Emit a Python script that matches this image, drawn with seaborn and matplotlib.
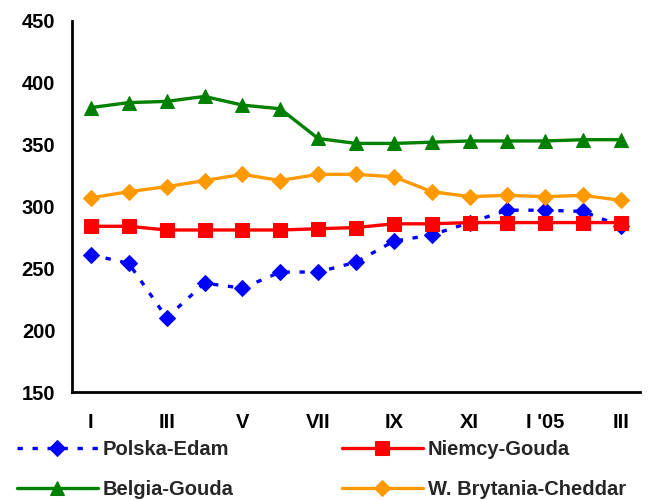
import matplotlib
matplotlib.use("Agg")
import matplotlib.pyplot as plt
from matplotlib.ticker import FixedLocator, NullFormatter, FixedFormatter
import seaborn as sns
import pandas as pd

months = ["I", "II", "III", "IV", "V", "VI", "VII", "VIII", "IX", "X", "XI", "XII", "I '05", "II", "III"]
polska_edam = [261, 254, 210, 238, 234, 247, 247, 255, 272, 277, 287, 297, 297, 296, 284]
niemcy_gouda = [284, 284, 281, 281, 281, 281, 282, 283, 286, 286, 287, 287, 287, 287, 287]
belgia_gouda = [380, 384, 385, 389, 382, 379, 355, 351, 351, 352, 353, 353, 353, 354, 354]
wb_cheddar = [307, 312, 316, 321, 326, 321, 326, 326, 324, 312, 308, 309, 308, 309, 305]
yticks = [150, 200, 250, 300, 350, 400, 450]

sns.set_style("white")
plt.rcParams['font.family'] = ['Liberation Sans', 'DejaVu Sans']
plt.rcParams['font.weight'] = 'bold'
FS = 14.5

fig = plt.figure(figsize=(6.49, 5.0), dpi=100)
ax = fig.add_axes([72/649, 1-392/500, (640-72)/649, (392-21)/500])

xs = list(range(len(months)))
df = pd.DataFrame({"x": xs, "Polska-Edam": polska_edam, "Niemcy-Gouda": niemcy_gouda,
                   "Belgia-Gouda": belgia_gouda, "W. Brytania-Cheddar": wb_cheddar})

series = [
    ("Polska-Edam", "#0000FF", "D", 8.3),
    ("Niemcy-Gouda", "#FF0000", "s", 10.0),
    ("Belgia-Gouda", "#008000", "^", 10.0),
    ("W. Brytania-Cheddar", "#FF9900", "D", 8.3),
]
lines = {}
for name, col, mk, ms in series:
    sns.lineplot(data=df, x="x", y=name, ax=ax, color=col, marker=mk, markersize=ms,
                 markeredgecolor=col, markerfacecolor=col, linewidth=2.4, label=name)
    lines[name] = ax.lines[-1]
lines["Polska-Edam"].set_linestyle((0, (1.6, 2.9)))
ax.get_legend().remove()

ax.set_xlim(-0.5, len(months) - 0.5)
ax.set_ylim(150, 450)
ax.set_yticks(yticks)
ax.set_yticklabels([str(v) for v in yticks])
ax.xaxis.set_major_locator(FixedLocator([i - 0.5 for i in range(len(months) + 1)]))
ax.xaxis.set_major_formatter(NullFormatter())
ax.xaxis.set_minor_locator(FixedLocator(xs[::2]))
ax.xaxis.set_minor_formatter(FixedFormatter(months[::2]))
ax.tick_params(axis='x', which='major', direction='out', length=7, width=2, color='black')
ax.tick_params(axis='x', which='minor', length=0, pad=15, labelsize=FS, labelcolor='black')
ax.tick_params(axis='y', direction='out', length=7, width=2, color='black', labelsize=FS,
               pad=5, labelcolor='black')
ax.set_xlabel("")
ax.set_ylabel("")
for s in ["top", "right"]:
    ax.spines[s].set_visible(False)
for s in ["left", "bottom"]:
    ax.spines[s].set_color("black")
    ax.spines[s].set_linewidth(2)
ax.grid(False)

order = ["Polska-Edam", "Belgia-Gouda", "Niemcy-Gouda", "W. Brytania-Cheddar"]
fig.legend([lines[n] for n in order], order, ncol=2, loc='upper left',
           bbox_to_anchor=(17/649, 1-440/500), frameon=False, borderpad=0,
           borderaxespad=0, handlelength=4.0, columnspacing=5.4, labelspacing=1.05,
           handletextpad=0.25, prop={'size': FS, 'weight': 'bold'})

fig.canvas.draw()
for t in ax.get_yticklabels() + ax.xaxis.get_minorticklabels():
    t.set_fontweight('bold')
    t.set_fontsize(FS)
    t.set_color('black')

fig.savefig("out.png", dpi=100)
